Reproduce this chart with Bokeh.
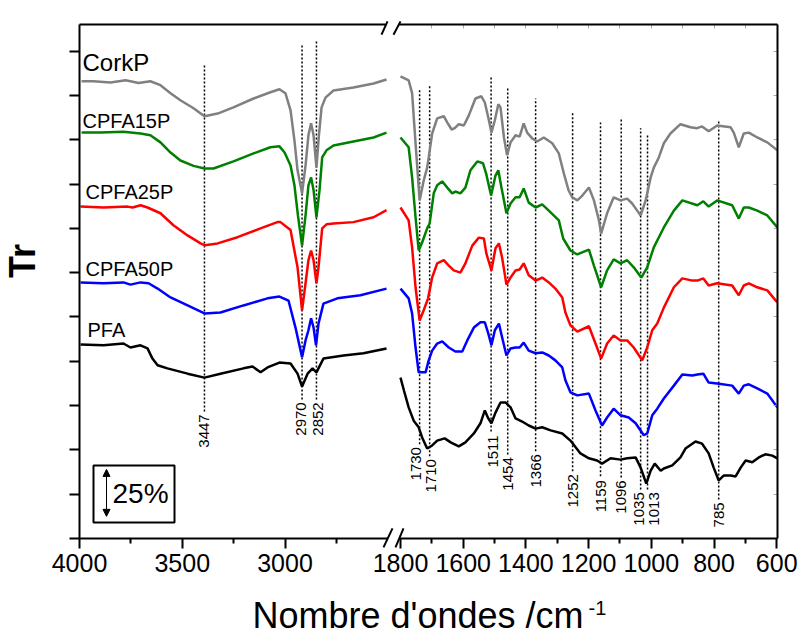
import numpy as np
from bokeh.plotting import figure
from bokeh.models import Range1d, FixedTicker, LinearAxis, Arrow, NormalHead
from bokeh.core.properties import value
from bokeh.embed import file_html
from bokeh.resources import INLINE

# ---------------- data: wavenumber (cm-1) and offset transmittance (1 unit = 25 %) ----------------
series_names = ["CorkP", "CPFA15P", "CPFA25P", "CPFA50P", "PFA"]
series_colors = ["#808080", "#008000", "#ff0000", "#0000ff", "#000000"]

cork_wn = [3990, 3932, 3849, 3776, 3752, 3713, 3655, 3606, 3557, 3509, 3445, 3392, 3328, 3251, 3153,
           3071, 3027, 2998, 2973, 2954, 2939, 2917, 2900, 2886, 2873, 2861, 2847, 2835, 2822, 2803,
           2764, 2667, 2569, 2506,
           1800, 1774, 1763, 1752, 1739, 1726, 1715, 1710, 1699, 1683, 1662, 1651, 1637, 1627, 1614,
           1598, 1582, 1561, 1542, 1531, 1518, 1510, 1499, 1488, 1481, 1470, 1460, 1449, 1433, 1420,
           1407, 1396, 1380, 1364, 1343, 1316, 1295, 1279, 1264, 1252, 1236, 1220, 1199, 1183, 1167,
           1160, 1141, 1120, 1098, 1077, 1061, 1045, 1034, 1018, 1002, 992, 976, 960, 939, 907, 875,
           854, 838, 817, 790, 747, 737, 721, 705, 689, 662, 630, 598]
cork_tr = [10.32, 10.32, 10.29, 10.34, 10.32, 10.28, 10.32, 10.23, 10.05, 9.89, 9.71, 9.53, 9.59, 9.73, 9.93,
           10.07, 10.14, 10.05, 9.66, 8.98, 8.31, 7.79, 8.42, 9.10, 9.37, 9.10, 8.37, 9.10, 9.73, 9.95,
           10.11, 10.18, 10.27, 10.36,
           10.43, 10.34, 10.05, 8.92, 7.63, 8.08, 8.37, 8.60, 9.14, 9.48, 9.53, 9.39, 9.23, 9.26, 9.35,
           9.32, 9.55, 9.93, 9.98, 9.84, 9.44, 9.16, 9.44, 9.80, 9.73, 9.05, 8.65, 8.94, 9.10, 9.07,
           9.37, 9.16, 9.03, 8.96, 9.05, 8.92, 8.69, 8.24, 7.86, 7.70, 7.63, 7.74, 7.92, 7.63, 7.18,
           6.88, 7.34, 7.70, 7.63, 7.67, 7.56, 7.40, 7.29, 7.63, 8.15, 8.37, 8.60, 8.92, 9.14, 9.35, 9.28,
           9.26, 9.30, 9.19, 9.32, 9.28, 9.16, 8.83, 9.14, 9.16, 9.05, 8.94, 8.76]

cpfa15_wn = [3990, 3898, 3786, 3703, 3655, 3606, 3557, 3509, 3445, 3392, 3348, 3251, 3153, 3071, 3027,
             3002, 2973, 2954, 2937, 2917, 2900, 2886, 2873, 2861, 2847, 2832, 2819, 2798, 2764, 2667,
             2569, 2506,
             1800, 1774, 1763, 1752, 1742, 1731, 1715, 1707, 1694, 1683, 1667, 1651, 1635, 1625, 1609,
             1593, 1577, 1555, 1537, 1527, 1511, 1497, 1488, 1478, 1462, 1449, 1433, 1420, 1407, 1391,
             1369, 1348, 1327, 1295, 1281, 1258, 1236, 1199, 1183, 1160, 1141, 1120, 1098, 1077, 1056,
             1032, 1013, 992, 960, 928, 901, 853, 834, 817, 790, 742, 721, 705, 689, 662, 630, 598]
cpfa15_tr = [9.16, 9.16, 9.18, 9.14, 9.10, 8.94, 8.71, 8.53, 8.41, 8.35, 8.35, 8.51, 8.69, 8.83, 8.85,
             8.71, 8.42, 7.97, 7.29, 6.61, 7.29, 7.97, 8.15, 7.86, 7.25, 7.86, 8.60, 8.76, 8.87, 8.96,
             9.05, 9.16,
             9.05, 8.83, 8.15, 7.25, 6.50, 6.68, 7.00, 7.11, 7.79, 7.97, 8.06, 7.92, 7.79, 7.83, 7.79,
             7.92, 8.31, 8.51, 8.47, 8.24, 7.74, 8.19, 8.31, 7.92, 7.34, 7.56, 7.70, 7.70, 7.90, 7.58,
             7.47, 7.54, 7.40, 7.18, 6.77, 6.50, 6.41, 6.52, 6.16, 5.67, 6.05, 6.30, 6.21, 6.28, 6.12,
             5.89, 6.12, 6.57, 7.02, 7.40, 7.63, 7.52, 7.61, 7.49, 7.63, 7.52, 7.22, 7.47, 7.47, 7.40, 7.29, 7.02]

cpfa25_wn = [3995, 3883, 3766, 3742, 3703, 3669, 3606, 3543, 3474, 3411, 3392, 3328, 3231, 3119, 3037,
             3022, 2973, 2939, 2917, 2900, 2886, 2873, 2861, 2847, 2837, 2819, 2798, 2764, 2667, 2569, 2506,
             1800, 1774, 1763, 1752, 1739, 1726, 1712, 1699, 1683, 1662, 1646, 1630, 1609, 1593, 1571,
             1550, 1534, 1526, 1510, 1497, 1486, 1476, 1462, 1449, 1433, 1420, 1407, 1391, 1369, 1348,
             1327, 1306, 1284, 1274, 1258, 1236, 1199, 1178, 1160, 1141, 1120, 1098, 1077, 1056, 1029,
             1013, 997, 981, 960, 928, 901, 869, 853, 834, 817, 790, 742, 721, 705, 689, 662, 630, 598]
cpfa25_tr = [7.49, 7.47, 7.49, 7.47, 7.52, 7.47, 7.34, 7.07, 6.84, 6.66, 6.62, 6.66, 6.80, 7.00, 7.14,
             7.14, 6.96, 6.12, 5.15, 5.76, 6.28, 6.50, 6.28, 5.76, 6.12, 7.00, 7.09, 7.11, 7.14, 7.25, 7.41,
             7.47, 7.18, 6.57, 5.67, 4.92, 5.15, 5.42, 5.89, 6.21, 6.28, 6.16, 6.05, 6.00, 6.21, 6.61,
             6.79, 6.77, 6.43, 6.05, 6.55, 6.66, 6.34, 5.73, 5.89, 6.05, 6.07, 6.21, 5.94, 5.82, 5.89,
             5.78, 5.64, 5.44, 5.10, 4.81, 4.67, 4.79, 4.40, 4.06, 4.40, 4.58, 4.47, 4.47, 4.31, 4.02,
             4.31, 4.70, 4.85, 5.21, 5.67, 5.87, 5.82, 5.82, 5.87, 5.71, 5.76, 5.71, 5.49, 5.71, 5.76, 5.67, 5.60, 5.33]

cpfa50_wn = [3995, 3883, 3786, 3752, 3703, 3664, 3620, 3557, 3474, 3392, 3314, 3202, 3085, 3027, 2983,
             2949, 2917, 2900, 2886, 2873, 2861, 2849, 2837, 2813, 2745, 2633, 2506,
             1800, 1774, 1763, 1752, 1742, 1720, 1710, 1699, 1683, 1667, 1646, 1625, 1603, 1587, 1566,
             1545, 1531, 1520, 1510, 1499, 1486, 1476, 1462, 1449, 1433, 1420, 1407, 1391, 1369, 1348,
             1327, 1306, 1284, 1274, 1258, 1236, 1199, 1178, 1157, 1141, 1120, 1098, 1072, 1050, 1024,
             1013, 997, 981, 960, 928, 901, 869, 853, 834, 817, 790, 742, 721, 705, 689, 662, 630, 598]
cpfa50_tr = [5.78, 5.76, 5.78, 5.73, 5.78, 5.76, 5.64, 5.44, 5.26, 5.08, 5.10, 5.26, 5.42, 5.46, 5.37,
             4.76, 4.09, 4.47, 4.70, 4.97, 4.76, 4.36, 4.85, 5.30, 5.42, 5.49, 5.64,
             5.64, 5.42, 5.08, 4.31, 3.75, 3.75, 4.02, 4.24, 4.40, 4.45, 4.31, 4.22, 4.22, 4.47, 4.76,
             4.88, 4.88, 4.63, 4.36, 4.70, 4.85, 4.54, 4.13, 4.29, 4.31, 4.31, 4.42, 4.24, 4.18, 4.20,
             4.13, 4.02, 3.86, 3.57, 3.30, 3.23, 3.27, 2.89, 2.55, 2.73, 2.93, 2.78, 2.73, 2.60, 2.33,
             2.37, 2.78, 2.93, 3.16, 3.45, 3.70, 3.68, 3.70, 3.72, 3.52, 3.50, 3.45, 3.27, 3.45, 3.48, 3.39, 3.27, 2.96]

pfa_wn = [3995, 3883, 3786, 3752, 3703, 3669, 3645, 3620, 3572, 3474, 3392, 3314, 3202, 3158, 3119,
          3085, 3027, 2973, 2939, 2917, 2890, 2866, 2847, 2813, 2715, 2618, 2506,
          1800, 1789, 1774, 1758, 1742, 1731, 1715, 1699, 1683, 1659, 1640, 1614, 1593, 1566, 1545,
          1531, 1520, 1510, 1497, 1481, 1465, 1449, 1433, 1412, 1391, 1369, 1348, 1321, 1284, 1258,
          1226, 1199, 1173, 1157, 1130, 1098, 1077, 1050, 1034, 1016, 1002, 989, 970, 960, 933, 907,
          891, 859, 838, 817, 801, 785, 769, 747, 731, 715, 699, 678, 657, 636, 614, 598]
pfa_tr = [4.38, 4.36, 4.40, 4.31, 4.36, 4.29, 4.06, 3.91, 3.84, 3.72, 3.63, 3.72, 3.84, 3.88, 3.75,
          3.86, 3.97, 3.95, 3.72, 3.43, 3.72, 3.84, 3.75, 4.06, 4.13, 4.18, 4.29,
          3.63, 3.34, 2.96, 2.66, 2.51, 2.28, 2.03, 2.10, 2.21, 2.26, 2.17, 2.08, 2.17, 2.37, 2.60,
          2.89, 2.71, 2.60, 2.84, 3.07, 3.07, 2.96, 2.71, 2.64, 2.55, 2.48, 2.51, 2.44, 2.37, 2.21,
          1.92, 1.81, 1.76, 1.69, 1.81, 1.78, 1.81, 1.83, 1.60, 1.24, 1.53, 1.69, 1.53, 1.58, 1.65, 1.83,
          2.03, 2.19, 2.14, 1.92, 1.60, 1.31, 1.42, 1.42, 1.40, 1.60, 1.76, 1.72, 1.83, 1.90, 1.87, 1.81]

# peak marker lines (position) and their labels
peak_wn = [3392, 2917, 2847, 1739, 1707, 1511, 1458, 1369, 1251, 1162, 1096, 1034, 1012, 785]
peak_text = ["3447", "2970", "2852", "1730", "1710", "1511", "1454", "1366", "1252", "1159",
             "1096", "1035", "1013", "785"]
peak_top = [10.68, 11.13, 11.22, 10.14, 10.25, 10.45, 10.16, 9.93, 9.62, 9.39, 9.46, 9.26, 9.10, 9.44]
peak_label_y = [2.05, 2.32, 2.32, 1.31, 1.04, 1.60, 1.08, 1.15, 0.70, 0.59, 0.56, 0.29, 0.29, 0.25]

major_wn = [4000, 3500, 3000, 1800, 1600, 1400, 1200, 1000, 800, 600]
minor_wn = [3750, 3250, 2750, 1700, 1500, 1300, 1100, 900, 700]
top_wn = [1700, 1600, 1500, 1400, 1300, 1200, 1100, 1000, 900, 800, 700]
y_ticks = list(range(0, 12))

x_title = "Nombre d'ondes /cm"
x_title_sup = "-1"
y_title = "Tr"
scale_text = "25%"

# ---------------- broken axis mapping: 4000-2500 | 1800-600 ----------------
L_SCALE, R_SCALE, R_START = 0.2055, 0.3135, 321.0


def xmap(w):
    w = np.asarray(w, dtype=float)
    return np.round(np.where(w > 2000, (4000 - w) * L_SCALE, R_START + (1800 - w) * R_SCALE), 3)


FONT = value("Liberation Sans")
YMAX = 11.6
PX_PER_UNIT = 514.0 / YMAX


def baseline(y, size_px):
    """shift so that the glyph baseline of horizontal text lands on y"""
    return y + 0.36 * size_px / PX_PER_UNIT


p = figure(width=798, height=636, x_range=Range1d(0, 698), y_range=Range1d(0, YMAX),
           output_backend="svg", toolbar_location=None, x_axis_location=None, y_axis_location=None,
           min_border_left=79, min_border_right=21, min_border_top=24, min_border_bottom=98)
p.outline_line_color = None
p.grid.visible = False
p.background_fill_color = "white"
p.border_fill_color = "white"


def hide_labels(ax):
    ax.major_label_text_font_size = "0px"
    ax.major_label_text_color = None
    ax.major_label_standoff = 0


# bottom axis
xb = LinearAxis(ticker=FixedTicker(ticks=[float(v) for v in xmap(major_wn)],
                                   minor_ticks=[float(v) for v in xmap(minor_wn)]))
xb.major_label_overrides = {float(u): str(w) for u, w in zip(xmap(major_wn), major_wn)}
xb.axis_line_color = None
xb.major_tick_out = 10
xb.major_tick_in = 0
xb.minor_tick_out = 5
xb.minor_tick_in = 0
xb.major_tick_line_width = 2
xb.minor_tick_line_width = 2
xb.major_label_standoff = 5
xb.major_label_text_font = "Liberation Sans"
xb.major_label_text_font_size = "25px"
xb.major_label_text_color = "black"
p.add_layout(xb, "below")

# top axis (faint inner ticks on right part)
xt = LinearAxis(ticker=FixedTicker(ticks=[float(v) for v in xmap(top_wn)], minor_ticks=[]))
xt.axis_line_color = None
xt.major_tick_out = 0
xt.major_tick_in = 4
xt.major_tick_line_color = "#aaaaaa"
xt.major_tick_line_width = 1
hide_labels(xt)
p.add_layout(xt, "above")

# left axis
yl = LinearAxis(ticker=FixedTicker(ticks=y_ticks, minor_ticks=[]))
yl.axis_line_color = None
yl.major_tick_out = 10
yl.major_tick_in = 0
yl.major_tick_line_width = 2
hide_labels(yl)
p.add_layout(yl, "left")

# right axis (faint inner ticks)
yr = LinearAxis(ticker=FixedTicker(ticks=y_ticks, minor_ticks=[]))
yr.axis_line_color = None
yr.major_tick_out = 0
yr.major_tick_in = 4
yr.major_tick_line_color = "#aaaaaa"
yr.major_tick_line_width = 1
hide_labels(yr)
p.add_layout(yr, "right")

# frame lines with the axis break
gap_top = (306.0, 319.4)
gap_bot = (308.3, 319.8)
fx0 = [0, 698, 0, gap_top[1], 0, gap_bot[1]]
fx1 = [0, 698, gap_top[0], 698, gap_bot[0], 698]
fy0 = [0, 0, YMAX, YMAX, 0, 0]
fy1 = [YMAX, YMAX, YMAX, YMAX, 0, 0]
p.segment(x0=fx0, y0=fy0, x1=fx1, y1=fy1, line_color="black", line_width=2, level="overlay")
# break slashes
sx0 = [302, 314, 304, 316]
sx1 = [308, 321, 313, 324]
sy0 = [11.37, 11.37, -0.20, -0.20]
sy1 = [11.67, 11.67, 0.23, 0.23]
p.segment(x0=sx0, y0=sy0, x1=sx1, y1=sy1, line_color="black", line_width=2, level="overlay")

# peak marker lines
label_dx = [0, -1.5, 2, -4, 1, 2, 0, 0, 0, 0, 0, -2, 6, 0]
line_bottom = [ly + (len(t) * 8.3 + 3) / PX_PER_UNIT for ly, t in zip(peak_label_y, peak_text)]
pk_x = xmap(peak_wn)
p.segment(x0=pk_x, y0=line_bottom, x1=pk_x, y1=peak_top, line_color="black",
          line_width=1.5, line_dash="2 2")
p.text(x=[float(x) + d for x, d in zip(pk_x, label_dx)], y=peak_label_y, text=peak_text,
       angle=np.pi / 2, text_align="left", text_baseline="middle", text_font=FONT,
       text_font_size="15px", text_color="black")

# spectra
all_wn = [cork_wn, cpfa15_wn, cpfa25_wn, cpfa50_wn, pfa_wn]
all_tr = [cork_tr, cpfa15_tr, cpfa25_tr, cpfa50_tr, pfa_tr]
for wn, tr, col in zip(all_wn, all_tr, series_colors):
    wn = np.asarray(wn, float)
    tr = np.asarray(tr, float)
    left = wn > 2000
    p.line(xmap(wn[left]), tr[left], line_color=col, line_width=2.5)
    p.line(xmap(wn[~left]), tr[~left], line_color=col, line_width=2.5)

# series names
name_x = [3, 3, 6, 6, 8]
name_y = [10.54, 9.26, 7.65, 5.91, 4.54]
name_size = [24, 20, 20, 20, 20]
for nm, x, y, s in zip(series_names, name_x, name_y, name_size):
    p.text(x=[x], y=[baseline(y, s)], text=[nm], text_font=FONT, text_font_size=f"{s}px",
           text_align="left", text_baseline="alphabetic", text_color="black")

# 25 % scale box
p.quad(left=[14], right=[95], bottom=[0.36], top=[1.65], fill_color=None, line_color="black",
       line_width=2)
p.add_layout(Arrow(x_start=27, y_start=0.50, x_end=27, y_end=1.56, line_width=1,
                   start=NormalHead(size=7, fill_color="black", line_color="black"),
                   end=NormalHead(size=7, fill_color="black", line_color="black")))
p.text(x=[33], y=[baseline(0.79, 28)], text=[scale_text], text_font=FONT, text_font_size="28px",
       text_align="left", text_baseline="alphabetic", text_color="black")

# axis titles (drawn unclipped, outside the frame)
p.text(x=[173], y=[baseline(-2.02, 36)], text=[x_title], text_font=FONT, text_font_size="36px",
       text_align="left", text_baseline="alphabetic", text_color="black", level="overlay")
p.text(x=[509], y=[baseline(-1.72, 20)], text=[x_title_sup], text_font=FONT, text_font_size="20px",
       text_align="left", text_baseline="alphabetic", text_color="black", level="overlay")
p.text(x=[-57], y=[6.26], text=[y_title], text_font=FONT, text_font_style="bold",
       text_font_size="36px", angle=np.pi / 2, text_align="center", text_baseline="middle",
       text_color="black", level="overlay")

open("out.html", "w").write(file_html(p, INLINE))
